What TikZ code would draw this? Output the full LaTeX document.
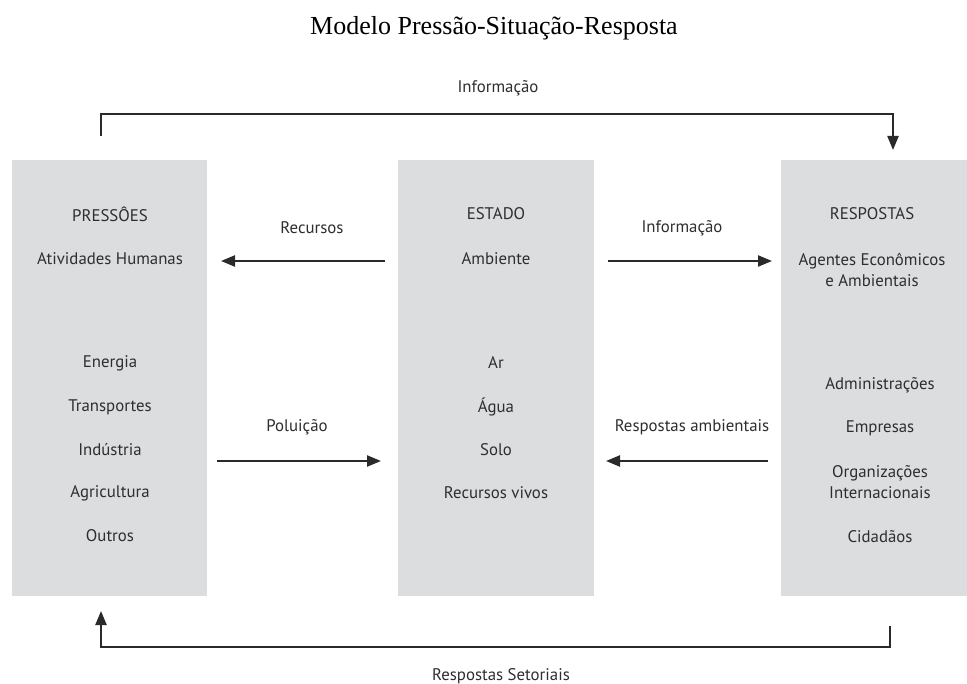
\documentclass[tikz,border=0pt]{standalone}
\usepackage{fontspec}
\setmainfont{Liberation Serif}
\newfontfamily\boxfont{PT Sans}
\usetikzlibrary{arrows.meta}
\definecolor{panel}{HTML}{DCDDDF}
\definecolor{ink}{HTML}{2E2E2E}
\definecolor{wire}{HTML}{2A2A2A}
\begin{document}
\begin{tikzpicture}[x=1pt,y=-1pt,
  panelbox/.style={fill=panel,draw=none,anchor=north west,inner sep=0pt},
  txt/.style={font=\boxfont\fontsize{16.8}{21}\selectfont,text=ink,inner sep=0pt,anchor=center,align=center},
  tip/.style={-{Triangle[length=14pt,width=11pt]}},
  flow/.style={draw=wire,line width=2.2pt,tip},
  loop/.style={draw=wire,line width=2.2pt}]
\useasboundingbox[fill=white] (0,0) rectangle (967,684);

% title
\node[font=\fontsize{26}{30}\selectfont,inner sep=0pt,anchor=base] (title) at (494,35) {Modelo Pressão-Situação-Resposta};

% the three panels
\node[panelbox,minimum width=195pt,minimum height=436pt] (press) at (12,160) {};
\node[panelbox,minimum width=196pt,minimum height=436pt] (estado) at (398,160) {};
\node[panelbox,minimum width=186pt,minimum height=436pt] (resp) at (781,160) {};

% pressures column
\node[txt] (p1) at (110,214) {PRESSÔES};
\node[txt] (p2) at (110,259) {Atividades Humanas};
\node[txt] (p3) at (110,363) {Energia};
\node[txt] (p4) at (110,407) {Transportes};
\node[txt] (p5) at (110,450) {Indústria};
\node[txt] (p6) at (110,493) {Agricultura};
\node[txt] (p7) at (110,536) {Outros};

% state column
\node[txt] (e1) at (496,214) {ESTADO};
\node[txt] (e2) at (496,259) {Ambiente};
\node[txt] (e3) at (496,363) {Ar};
\node[txt] (e4) at (496,407) {Água};
\node[txt] (e5) at (496,450) {Solo};
\node[txt] (e6) at (496,493) {Recursos vivos};

% responses column
\node[txt] (r1) at (872,214) {RESPOSTAS};
\node[txt] (r2) at (872,270) {Agentes Econômicos\\e Ambientais};
\node[txt] (r3) at (880,385) {Administrações};
\node[txt] (r4) at (880,428) {Empresas};
\node[txt] (r5) at (880,482) {Organizações\\Internacionais};
\node[txt] (r6) at (880,537) {Cidadãos};

% horizontal flows between panels
\coordinate (recA) at (385,261); \coordinate (recB) at (221,261);
\coordinate (infA) at (608,261); \coordinate (infB) at (772,261);
\coordinate (polA) at (217,461); \coordinate (polB) at (381,461);
\coordinate (rsaA) at (768,461); \coordinate (rsaB) at (606,461);
\draw[flow] (recA) -- (recB);
\draw[flow] (infA) -- (infB);
\draw[flow] (polA) -- (polB);
\draw[flow] (rsaA) -- (rsaB);
\node[txt] (lrec) at (312,228) {Recursos};
\node[txt] (linf) at (682,228) {Informação};
\node[txt] (lpol) at (297,427) {Poluição};
\node[txt] (lrsa) at (692,427) {Respostas ambientais};

% outer feedback loops
\coordinate (topA) at (101,136);
\coordinate (topB) at (893,150);
\draw[loop,tip] (topA) |- (493,114) -| (topB);
\node[txt] (ltop) at (498,88) {Informação};

\coordinate (botA) at (890,626);
\coordinate (botB) at (101,611);
\draw[loop,tip] (botA) |- (493,647) -| (botB);
\node[txt] (lbot) at (501,676) {Respostas Setoriais};
\end{tikzpicture}
\end{document}
